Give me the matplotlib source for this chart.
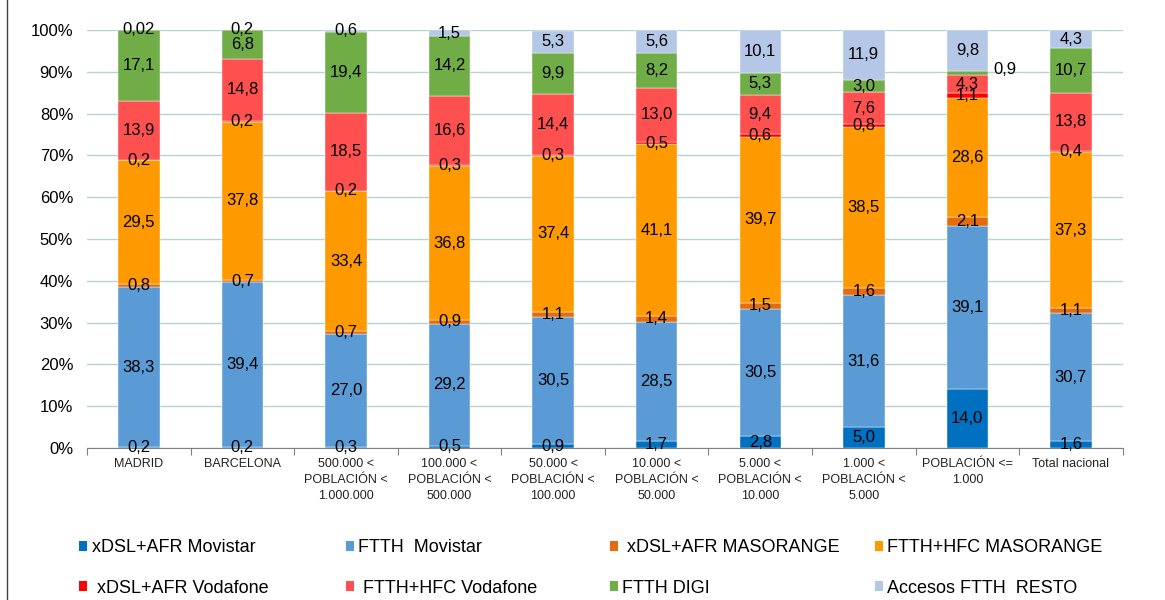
import matplotlib.pyplot as plt
import numpy as np

plt.rcParams['font.family'] = ['Liberation Sans', 'DejaVu Sans']

categorias = ["MADRID", "BARCELONA", "500.000 <\nPOBLACIÓN <\n1.000.000",
              "100.000 <\nPOBLACIÓN <\n500.000", "50.000 <\nPOBLACIÓN <\n100.000",
              "10.000 <\nPOBLACIÓN <\n50.000", "5.000 <\nPOBLACIÓN <\n10.000",
              "1.000 <\nPOBLACIÓN <\n5.000", "POBLACIÓN <=\n1.000", "Total nacional"]

xdsl_movistar = [0.2, 0.2, 0.3, 0.5, 0.9, 1.7, 2.8, 5.0, 14.0, 1.6]
ftth_movistar = [38.3, 39.4, 27.0, 29.2, 30.5, 28.5, 30.5, 31.6, 39.1, 30.7]
xdsl_masorange = [0.8, 0.7, 0.7, 0.9, 1.1, 1.4, 1.5, 1.6, 2.1, 1.1]
ftth_masorange = [29.5, 37.8, 33.4, 36.8, 37.4, 41.1, 39.7, 38.5, 28.6, 37.3]
xdsl_vodafone = [0.2, 0.2, 0.2, 0.3, 0.3, 0.5, 0.6, 0.8, 1.1, 0.4]
ftth_vodafone = [13.9, 14.8, 18.5, 16.6, 14.4, 13.0, 9.4, 7.6, 4.3, 13.8]
ftth_digi = [17.1, 6.8, 19.4, 14.2, 9.9, 8.2, 5.3, 3.0, 0.9, 10.7]
ftth_resto = [0.02, 0.2, 0.6, 1.5, 5.3, 5.6, 10.1, 11.9, 9.8, 4.3]

series = [xdsl_movistar, ftth_movistar, xdsl_masorange, ftth_masorange,
          xdsl_vodafone, ftth_vodafone, ftth_digi, ftth_resto]
nombres = ["xDSL+AFR Movistar", "FTTH  Movistar", " xDSL+AFR MASORANGE", "FTTH+HFC MASORANGE",
           " xDSL+AFR Vodafone", " FTTH+HFC Vodafone", "FTTH DIGI", "Accesos FTTH  RESTO"]
colores = ["#0070C0", "#5B9BD5", "#E46C0A", "#FF9900",
           "#FF0000", "#FF5050", "#70AD47", "#B4C7E7"]

fig = plt.figure(figsize=(11.65, 6), dpi=100)
ax = fig.add_axes([0.0747, 0.2533, 0.889, 0.6967])

x = np.arange(len(categorias))
bottom = np.zeros(len(categorias))
barras = []
for vals, nombre, col in zip(series, nombres, colores):
    vals = np.array(vals)
    b = ax.bar(x, vals, 0.40, bottom=bottom, color=col, label=nombre, zorder=2,
               edgecolor="#FFFFFF", linewidth=0.3)
    barras.append(b)
    for i, v in enumerate(vals):
        txt = f"{v:.2f}".replace(".", ",") if v < 0.1 else f"{v:.1f}".replace(".", ",")
        yc = bottom[i] + v / 2
        if nombre == "FTTH DIGI" and i == 8:
            ax.text(x[i] + 0.36, yc + 0.8, txt, ha="center", va="center", fontsize=12, zorder=3)
        else:
            ax.text(x[i], yc, txt, ha="center", va="center", fontsize=12, zorder=3)
    bottom += vals

ax.set_xlim(-0.5, len(categorias) - 0.5)
ax.set_ylim(0, 100)
ax.set_yticks(np.arange(0, 101, 10))
ax.set_yticklabels([f"{t}%" for t in range(0, 101, 10)], fontsize=12)
ax.yaxis.grid(True, color="#B7D3CF", linewidth=1, zorder=0)
ax.set_xticks(np.arange(-0.5, len(categorias), 1), minor=False)
ax.set_xticklabels([])
ax.set_xticks(x, minor=True)
ax.set_xticklabels(categorias, minor=True, fontsize=9, linespacing=1.45, color="#222222")
ax.tick_params(axis="x", which="minor", length=0, pad=7)
ax.tick_params(axis="x", which="major", length=5, color="#808080")
ax.tick_params(axis="y", length=0, pad=10)
for s in ["top", "right", "left"]:
    ax.spines[s].set_visible(False)
ax.spines["bottom"].set_color("#808080")

# leyenda en 4 columnas, cada una con 2 filas
pos_x = [0.0682, 0.297, 0.5236, 0.751]
for c in range(4):
    idx = [c, c + 4]
    leg = fig.legend([barras[i] for i in idx], [nombres[i] for i in idx],
                     loc="upper left", bbox_to_anchor=(pos_x[c], 0.101), frameon=False,
                     fontsize=13, handlelength=0.44, handleheight=0.44, handletextpad=0.25,
                     labelspacing=1.28, borderpad=0, borderaxespad=0)
    for h in leg.legend_handles:
        h.set_linewidth(0)

fig.add_artist(plt.Line2D([0.006, 0.006], [0, 1], color="#404040", linewidth=1))

plt.savefig("out.png", dpi=100)
